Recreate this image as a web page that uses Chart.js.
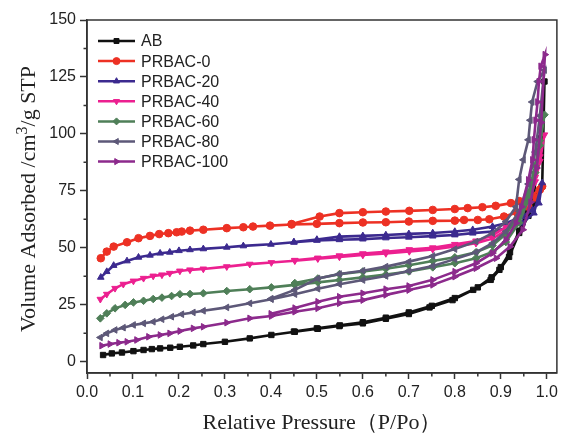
<!DOCTYPE html>
<html>
<head>
<meta charset="utf-8">
<script src="https://cdn.jsdelivr.net/npm/chart.js@4/dist/chart.umd.min.js"></script>
<style>
  html, body { margin: 0; padding: 0; background: #ffffff; }
  canvas { display: block; }
</style>
</head>
<body>
<canvas id="c" width="562" height="434"></canvas>
<script>
// ---------- data ----------
// Each series: adsorption branch (rising P) followed by desorption branch (falling P)
const seriesNames = ['AB', 'PRBAC-0', 'PRBAC-20', 'PRBAC-40', 'PRBAC-60', 'PRBAC-80', 'PRBAC-100'];

const pressureAB = [0.035, 0.054, 0.076, 0.101, 0.123, 0.141, 0.159, 0.181, 0.202, 0.231, 0.253, 0.30, 0.354, 0.401, 0.452, 0.502, 0.549, 0.60, 0.65, 0.70, 0.745, 0.795, 0.84, 0.878, 0.897, 0.918, 0.94, 0.96, 0.975, 0.99, 0.995,
                    0.985, 0.972, 0.958, 0.94, 0.92, 0.90, 0.88, 0.85, 0.80, 0.75, 0.70, 0.65, 0.60, 0.55, 0.50, 0.45];
const volumeAB   = [2.9, 3.6, 4.0, 4.6, 5.1, 5.5, 5.8, 6.1, 6.5, 7.1, 7.7, 8.7, 10.2, 11.7, 13.1, 14.4, 15.6, 16.8, 18.8, 20.9, 23.8, 27.0, 31.5, 35.9, 40.3, 46.0, 56.5, 64.0, 70.0, 77.0, 123.0,
                    98.0, 73.0, 65.5, 57.5, 48.0, 41.5, 37.0, 32.6, 27.9, 24.5, 21.6, 19.3, 17.3, 15.9, 14.6, 13.2];

const pressureP0 = [0.030, 0.043, 0.058, 0.087, 0.112, 0.137, 0.157, 0.177, 0.195, 0.206, 0.224, 0.253, 0.304, 0.34, 0.361, 0.398, 0.445, 0.50, 0.549, 0.60, 0.65, 0.70, 0.752, 0.80, 0.82, 0.85, 0.875, 0.907, 0.935, 0.96, 0.978, 0.99,
                    0.985, 0.96, 0.94, 0.922, 0.889, 0.86, 0.828, 0.80, 0.752, 0.701, 0.65, 0.60, 0.549, 0.506, 0.445];
const volumeP0   = [45.4, 48.3, 50.5, 52.4, 54.2, 55.2, 56.0, 56.4, 56.8, 57.1, 57.5, 57.9, 58.6, 59.0, 59.3, 59.7, 60.2, 60.5, 60.8, 61.1, 61.2, 61.5, 61.8, 61.9, 62.2, 62.2, 62.5, 63.7, 65.5, 68.0, 72.0, 77.0,
                    75.5, 72.0, 70.5, 69.6, 68.4, 67.8, 67.4, 67.0, 66.6, 66.2, 65.9, 65.6, 65.2, 63.7, 60.4];

const pressureP20 = [0.030, 0.043, 0.058, 0.087, 0.112, 0.137, 0.159, 0.18, 0.20, 0.224, 0.253, 0.304, 0.34, 0.40, 0.45, 0.50, 0.549, 0.60, 0.65, 0.70, 0.752, 0.80, 0.839, 0.882, 0.911, 0.947, 0.972, 0.99,
                     0.983, 0.969, 0.947, 0.911, 0.882, 0.839, 0.80, 0.752, 0.70, 0.65, 0.60, 0.549, 0.50, 0.45];
const volumeP20   = [37.0, 39.5, 42.2, 44.2, 45.8, 46.7, 47.6, 48.0, 48.7, 49.1, 49.5, 50.2, 50.8, 51.5, 52.4, 53.2, 53.5, 53.8, 54.3, 54.6, 55.1, 55.6, 56.4, 57.1, 58.6, 60.8, 65.2, 78.5,
                     69.6, 66.6, 63.7, 60.8, 59.3, 57.9, 57.1, 56.5, 56.1, 55.6, 55.2, 54.9, 53.6, 52.5];

const pressureP40 = [0.029, 0.043, 0.061, 0.079, 0.101, 0.123, 0.144, 0.163, 0.18, 0.202, 0.224, 0.253, 0.304, 0.354, 0.401, 0.452, 0.502, 0.549, 0.60, 0.65, 0.701, 0.752, 0.80, 0.846, 0.882, 0.911, 0.94, 0.96, 0.975, 0.985, 0.995,
                     0.985, 0.975, 0.96, 0.94, 0.911, 0.882, 0.846, 0.80, 0.752, 0.701, 0.65, 0.60, 0.549, 0.502, 0.452];
const volumeP40   = [27.4, 29.6, 32.2, 34.0, 35.4, 36.6, 37.6, 38.1, 38.8, 39.8, 40.3, 40.7, 41.7, 42.8, 43.5, 44.3, 45.2, 46.0, 46.8, 47.5, 48.4, 49.3, 50.6, 52.0, 54.0, 57.5, 63.0, 70.0, 79.0, 88.0, 99.6,
                     90.0, 81.0, 72.0, 64.0, 59.0, 55.5, 53.0, 51.5, 50.0, 49.2, 48.2, 47.4, 46.5, 45.5, 44.5];

const pressureP60 = [0.029, 0.043, 0.061, 0.083, 0.101, 0.123, 0.144, 0.163, 0.184, 0.202, 0.224, 0.253, 0.304, 0.354, 0.401, 0.452, 0.502, 0.549, 0.60, 0.65, 0.70, 0.752, 0.80, 0.846, 0.882, 0.911, 0.94, 0.96, 0.975, 0.985, 0.995,
                     0.985, 0.975, 0.96, 0.94, 0.911, 0.882, 0.846, 0.80, 0.752, 0.70, 0.65, 0.60, 0.549, 0.502, 0.452];
const volumeP60   = [19.0, 21.2, 23.4, 24.9, 26.0, 26.7, 27.5, 28.1, 28.8, 29.6, 29.7, 30.0, 31.0, 31.8, 32.6, 33.7, 34.8, 35.8, 37.0, 38.2, 39.6, 41.4, 43.2, 45.4, 48.2, 52.5, 61.0, 71.0, 83.0, 95.0, 108.4,
                     97.0, 86.0, 74.0, 64.0, 56.0, 51.0, 48.0, 45.8, 44.2, 42.3, 40.8, 39.6, 38.4, 36.5, 34.5];

const pressureP80 = [0.029, 0.043, 0.061, 0.079, 0.101, 0.123, 0.144, 0.163, 0.184, 0.206, 0.231, 0.253, 0.304, 0.354, 0.401, 0.452, 0.502, 0.549, 0.60, 0.65, 0.70, 0.752, 0.80, 0.846, 0.882, 0.911, 0.94, 0.96, 0.975, 0.985, 0.995,
                     0.98, 0.968, 0.964, 0.96, 0.949, 0.94, 0.933, 0.911, 0.882, 0.846, 0.80, 0.752, 0.70, 0.65, 0.60, 0.549, 0.502, 0.452, 0.40];
const volumeP80   = [10.6, 12.4, 13.9, 14.9, 16.1, 16.8, 17.5, 18.6, 19.7, 20.8, 21.6, 22.3, 23.8, 25.6, 27.4, 29.6, 32.0, 34.0, 35.8, 37.6, 39.8, 42.0, 45.0, 48.0, 52.0, 57.1, 66.0, 78.0, 92.0, 108.0, 128.0,
                     123.0, 114.0, 106.0, 97.4, 88.6, 80.0, 68.0, 61.5, 56.4, 52.7, 49.4, 46.4, 43.9, 41.7, 39.9, 38.5, 36.5, 31.5, 27.6];

const pressureP100 = [0.032, 0.05, 0.069, 0.087, 0.108, 0.134, 0.159, 0.18, 0.202, 0.231, 0.253, 0.304, 0.354, 0.401, 0.452, 0.502, 0.549, 0.60, 0.65, 0.70, 0.752, 0.80, 0.846, 0.89, 0.92, 0.948, 0.965, 0.978, 0.988, 0.996,
                      0.987, 0.983, 0.98, 0.976, 0.972, 0.969, 0.96, 0.945, 0.933, 0.911, 0.882, 0.846, 0.80, 0.752, 0.70, 0.65, 0.60, 0.549, 0.502, 0.452, 0.40];
const volumeP100   = [7.0, 7.7, 8.3, 8.7, 9.5, 10.9, 11.7, 12.4, 13.4, 14.6, 15.3, 17.1, 19.0, 20.0, 21.9, 23.4, 25.6, 27.0, 29.3, 31.4, 33.7, 37.3, 41.0, 45.4, 50.5, 57.9, 70.0, 85.0, 105.0, 134.8,
                      129.7, 123.0, 114.0, 106.0, 97.4, 88.6, 79.8, 68.0, 60.8, 53.5, 47.6, 43.2, 39.5, 35.9, 33.2, 31.8, 30.0, 28.5, 26.3, 23.5, 21.0];

const xTicks = [0.0, 0.1, 0.2, 0.3, 0.4, 0.5, 0.6, 0.7, 0.8, 0.9, 1.0];
const xTickLabels = ['0.0', '0.1', '0.2', '0.3', '0.4', '0.5', '0.6', '0.7', '0.8', '0.9', '1.0'];
const xMinorTicks = [0.05, 0.15, 0.25, 0.35, 0.45, 0.55, 0.65, 0.75, 0.85, 0.95];
const yTicks = [0, 25, 50, 75, 100, 125, 150];
const yTickLabels = ['0', '25', '50', '75', '100', '125', '150'];
const yMinorTicks = [12.5, 37.5, 62.5, 87.5, 112.5, 137.5];

const xTitle = 'Relative Pressure（P/Po）';
const yTitleParts = ['Volume Adsorbed /cm', '3', '/g STP'];

// ---------- styling ----------
const colors = ['#111111', '#ed3124', '#3c2a8f', '#ec2090', '#4f7f58', '#5d5878', '#8c2a8c'];
const markers = [
  { style: 'rect', rot: 0 },
  { style: 'circle', rot: 0 },
  { style: 'triangle', rot: 0 },
  { style: 'triangle', rot: 180 },
  { style: 'rectRot', rot: 0 },
  { style: 'triangle', rot: 270 },
  { style: 'triangle', rot: 90 }
];
const pressures = [pressureAB, pressureP0, pressureP20, pressureP40, pressureP60, pressureP80, pressureP100];
const volumes   = [volumeAB, volumeP0, volumeP20, volumeP40, volumeP60, volumeP80, volumeP100];

const sansFont = '"Liberation Sans", Arial, Helvetica, sans-serif';
const serifFont = '"Liberation Serif", "Times New Roman", Times, serif';
const textColor = '#222222';
const axisColor = '#333333';

const datasets = seriesNames.map((name, i) => ({
  label: name,
  data: pressures[i].map((p, k) => ({ x: p, y: volumes[i][k] })),
  showLine: true,
  borderColor: colors[i],
  backgroundColor: colors[i],
  borderWidth: 2.6,
  pointStyle: markers[i].style,
  rotation: markers[i].rot,
  pointRadius: 3.8,
  pointBorderWidth: 1,
  pointBackgroundColor: colors[i],
  pointBorderColor: colors[i],
  tension: 0,
  order: seriesNames.length - 1 - i
}));

// white background, frame, minor ticks, y title with superscript
const framePlugin = {
  id: 'frame',
  beforeDraw(chart) {
    const ctx = chart.ctx;
    ctx.save();
    ctx.fillStyle = '#ffffff';
    ctx.fillRect(0, 0, chart.width, chart.height);
    ctx.restore();
  },
  afterDraw(chart) {
    const { ctx, chartArea: a, scales: { x, y } } = chart;
    ctx.save();
    ctx.strokeStyle = axisColor;
    ctx.lineWidth = 1.5;
    ctx.strokeRect(a.left, a.top, a.right - a.left, a.bottom - a.top);
    ctx.beginPath();
    xMinorTicks.forEach(v => {
      const px = x.getPixelForValue(v);
      ctx.moveTo(px, a.bottom);
      ctx.lineTo(px, a.bottom + 3.5);
    });
    yMinorTicks.forEach(v => {
      const py = y.getPixelForValue(v);
      ctx.moveTo(a.left, py);
      ctx.lineTo(a.left - 3.5, py);
    });
    ctx.stroke();
    ctx.restore();

    // rotated y-axis title with a superscript
    ctx.save();
    ctx.fillStyle = textColor;
    ctx.textBaseline = 'alphabetic';
    ctx.textAlign = 'left';
    const big = '22px ' + serifFont, small = '16px ' + serifFont;
    ctx.font = big; const w1 = ctx.measureText(yTitleParts[0]).width;
    ctx.font = small; const w2 = ctx.measureText(yTitleParts[1]).width;
    ctx.font = big; const w3 = ctx.measureText(yTitleParts[2]).width;
    const total = w1 + w2 + w3;
    ctx.translate(35, 199);
    ctx.rotate(-Math.PI / 2);
    let cx = -total / 2;
    ctx.font = big; ctx.fillText(yTitleParts[0], cx, 0); cx += w1;
    ctx.font = small; ctx.fillText(yTitleParts[1], cx, -8); cx += w2;
    ctx.font = big; ctx.fillText(yTitleParts[2], cx, 0);
    ctx.restore();
  }
};

// legend drawn inside the plot area (line + marker + label)
const insideLegend = {
  id: 'insideLegend',
  afterDraw(chart) {
    const { ctx, chartArea: a } = chart;
    chart.data.datasets.forEach((ds, i) => {
      const y = a.top + 21 + i * 20.1;
      const x0 = a.left + 11;
      const x1 = x0 + 37;
      ctx.save();
      ctx.strokeStyle = ds.borderColor;
      ctx.lineWidth = 2.5;
      ctx.beginPath();
      ctx.moveTo(x0, y);
      ctx.lineTo(x1, y);
      ctx.stroke();
      ctx.fillStyle = ds.pointBackgroundColor;
      ctx.strokeStyle = ds.pointBorderColor;
      ctx.lineWidth = 1;
      if (Chart.helpers && Chart.helpers.drawPoint) {
        Chart.helpers.drawPoint(ctx, { pointStyle: ds.pointStyle, rotation: ds.rotation, radius: 3.5, borderWidth: 1 }, (x0 + x1) / 2, y);
      }
      ctx.fillStyle = textColor;
      ctx.font = '16px ' + sansFont;
      ctx.textBaseline = 'middle';
      ctx.textAlign = 'left';
      ctx.fillText(ds.label, x1 + 6, y + 1);
      ctx.restore();
    });
  }
};

new Chart(document.getElementById('c'), {
  type: 'scatter',
  data: { datasets },
  plugins: [framePlugin, insideLegend],
  options: {
    responsive: false,
    animation: false,
    events: [],
    layout: { padding: { left: 0, right: 4, top: 20, bottom: 0 } },
    plugins: {
      legend: { display: false },
      tooltip: { enabled: false }
    },
    scales: {
      x: {
        type: 'linear',
        min: 0,
        max: 1.022,
        afterFit: s => { s.height = 61; },
        afterBuildTicks: s => { s.ticks = xTicks.map(v => ({ value: v })); },
        ticks: {
          autoSkip: false,
          maxRotation: 0,
          padding: 4,
          color: textColor,
          font: { family: sansFont, size: 16 },
          callback: (v) => xTickLabels[xTicks.indexOf(v)] ?? ''
        },
        grid: { drawOnChartArea: false, drawTicks: true, tickLength: 6, tickWidth: 1.5, tickColor: axisColor },
        border: { display: true, color: axisColor, width: 1.5 },
        title: {
          display: true,
          text: xTitle,
          color: textColor,
          font: { family: serifFont, size: 22, lineHeight: 1 },
          padding: { top: 0, bottom: 0 }
        }
      },
      y: {
        type: 'linear',
        min: -5,
        max: 150,
        afterFit: s => { s.width = 87; },
        afterBuildTicks: s => { s.ticks = yTicks.map(v => ({ value: v })); },
        ticks: {
          autoSkip: false,
          padding: 4,
          color: textColor,
          font: { family: sansFont, size: 16 },
          callback: (v) => yTickLabels[yTicks.indexOf(v)] ?? ''
        },
        grid: { drawOnChartArea: false, drawTicks: true, tickLength: 7, tickWidth: 1.5, tickColor: axisColor },
        border: { display: true, color: axisColor, width: 1.5 },
        title: { display: false }
      }
    }
  }
});
</script>
</body>
</html>
